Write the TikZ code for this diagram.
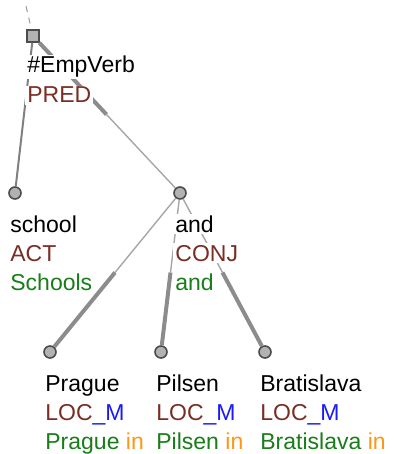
\documentclass[tikz,border=0pt]{standalone}
\usepackage{fontspec}
\setmainfont{Liberation Sans}
\usetikzlibrary{calc}
\definecolor{tredbrown}{RGB}{122,45,35}
\definecolor{tredgreen}{RGB}{25,125,25}
\definecolor{tredblue}{RGB}{25,25,250}
\definecolor{tredorange}{RGB}{255,150,20}
\begin{document}
\begin{tikzpicture}
		[x=0.5pt,y=-0.5pt,
		tnode/.style={circle,draw=black!70,fill=black!30,line width=0.8pt,inner sep=0pt,minimum size=6pt},
		rootnode/.style={rectangle,draw=black!70,fill=black!30,line width=0.8pt,inner sep=0pt,minimum size=6pt},
		txt/.style={anchor=base west,fill=white,inner xsep=1pt,inner ysep=0.8pt,font=\fontsize{11.5}{14}\selectfont},
		lemma/.style={txt,text=black},
		func/.style={txt,text=tredbrown},
		surface/.style={txt,text=tredgreen},
		halfthick/.style={draw=black!45,line width=2pt},
		halfthin/.style={draw=black!35,line width=0.7pt},
		plainedge/.style={draw=black!50,line width=1pt},]
		\useasboundingbox (0,0) rectangle (393,454);
		% nodes of the tree
		\node[rootnode,name=root] at (33,36) {};
		\node[tnode,name=school] at (15,193) {};
		\node[tnode,name=and] at (180,193) {};
		\node[tnode,name=prague] at (50,352) {};
		\node[tnode,name=pilsen] at (161,352) {};
		\node[tnode,name=bratislava] at (265,352) {};
		\coordinate (top) at (26,6);
		% edges
		\draw[black!40,dashed,line width=0.5pt] (top) -- (root);
		\draw[plainedge] (root) -- (school);
		\draw[halfthick] (root) -- ($(root)!.5!(and)$);
		\draw[halfthin] ($(root)!.5!(and)$) -- (and);
		\foreach \m in {prague,pilsen,bratislava}
		{
			\draw[halfthin] (and) -- ($(and)!.5!(\m)$);
			\draw[halfthick] ($(and)!.5!(\m)$) -- (\m);
		}
		% labels
		\node[lemma,name=root-a] at ([shift={(-8,37)}]root.center) {\#EmpVerb};
		\node[func,name=root-b] at ([shift={(0,30)}]root-a.base west) {PRED};
		\foreach \n/\a/\b/\c in
			{school/school/ACT/Schools,
			and/and/CONJ/and,
			prague/Prague/LOC\textcolor{tredblue}{\_M}/Prague \textcolor{tredorange}{in},
			pilsen/Pilsen/LOC\textcolor{tredblue}{\_M}/Pilsen \textcolor{tredorange}{in},
			bratislava/Bratislava/LOC\textcolor{tredblue}{\_M}/Bratislava \textcolor{tredorange}{in}}
		{
			\node[lemma,name=\n-a] at ([shift={(-7,39)}]\n.center) {\a};
			\node[func,name=\n-b] at ([shift={(0,29)}]\n-a.base west) {\b};
			\node[surface,name=\n-c] at ([shift={(0,29)}]\n-b.base west) {\c};
		}
	\end{tikzpicture}
\end{document}
